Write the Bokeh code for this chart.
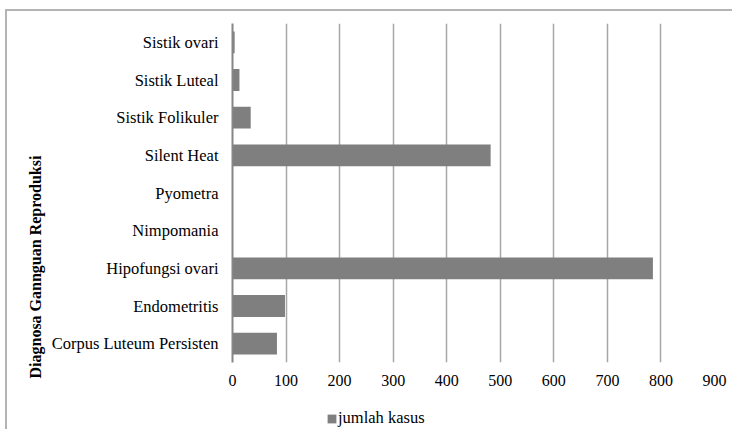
from bokeh.plotting import figure
from bokeh.layouts import column
from bokeh.models import FactorRange, Range1d, Legend, LegendItem, FixedTicker, Title
from bokeh.embed import file_html
from bokeh.resources import INLINE

# Data (bottom to top)
categories = ["Corpus Luteum Persisten", "Endometritis", "Hipofungsi ovari", "Nimpomania",
              "Pyometra", "Silent Heat", "Sistik Folikuler", "Sistik Luteal", "Sistik ovari"]
jumlah_kasus = [83, 98, 785, 0, 0, 482, 34, 13, 4]
x_ticks = [0, 100, 200, 300, 400, 500, 600, 700, 800, 900]

FONT = "'Liberation Serif', 'Times New Roman', serif"
BAR = "#7f7f7f"

p = figure(width=725, height=384, output_backend="svg", toolbar_location=None,
           y_range=FactorRange(*categories, range_padding=0),
           x_range=Range1d(0, 900),
           min_border_left=225, min_border_right=18, min_border_top=12, min_border_bottom=33)
p.outline_line_color = None
p.background_fill_color = "white"
p.border_fill_color = "white"

r = p.hbar(y=categories, right=jumlah_kasus, left=0, height=0.58,
           fill_color=BAR, line_color=None)

p.xaxis.ticker = FixedTicker(ticks=x_ticks)
p.xaxis.axis_line_color = None
p.xaxis.major_tick_line_color = None
p.xaxis.minor_tick_line_color = None
p.xaxis.major_tick_out = 0
p.xaxis.major_label_standoff = 12
p.xaxis.major_label_text_font = FONT
p.xaxis.major_label_text_font_size = "16px"
p.xaxis.major_label_text_color = "black"

p.yaxis.axis_line_color = "#868686"
p.yaxis.axis_line_width = 2
p.yaxis.major_tick_line_color = None
p.yaxis.minor_tick_line_color = None
p.yaxis.major_tick_out = 0
p.yaxis.major_label_standoff = 14
p.yaxis.major_label_text_font = FONT
p.yaxis.major_label_text_font_size = "16.5px"
p.yaxis.major_label_text_color = "black"

p.xgrid.grid_line_color = "#a6a6a6"
p.xgrid.grid_line_width = 1.5
p.ygrid.grid_line_color = None

title = Title(text="Diagnosa Gannguan Reproduksi", align="left", offset=-16,
              text_font=FONT, text_font_size="16px", text_font_style="bold",
              text_color="black", standoff=10)
p.add_layout(title, "left")

# Legend strip below the chart (zero-width stand-in bar carries the legend swatch)
lg = figure(width=725, height=34, output_backend="svg", toolbar_location=None,
            x_range=Range1d(0, 1), y_range=Range1d(0, 1),
            min_border=0, min_border_left=0, min_border_right=0,
            min_border_top=0, min_border_bottom=0)
lg.axis.visible = False
lg.grid.visible = False
lg.outline_line_color = None
lg.border_fill_color = "white"
swatch = lg.hbar(y=[0], left=[0], right=[0], height=0, fill_color=BAR, line_color=None)

legend = Legend(items=[LegendItem(label="jumlah kasus", renderers=[swatch])],
                location=(94, 1), orientation="horizontal",
                glyph_width=11, glyph_height=11, label_standoff=1,
                label_height=16, padding=0, margin=0, spacing=0,
                border_line_color=None, background_fill_alpha=0,
                label_text_font=FONT, label_text_font_size="16.5px",
                label_text_color="black")
lg.add_layout(legend, "center")

layout = column(p, lg, spacing=0, margin=(9, 0, 0, 5),
                styles={"border-left": "2px solid #b4b4b4", "border-top": "2px solid #b4b4b4"})

open("out.html", "w").write(file_html(layout, INLINE))
